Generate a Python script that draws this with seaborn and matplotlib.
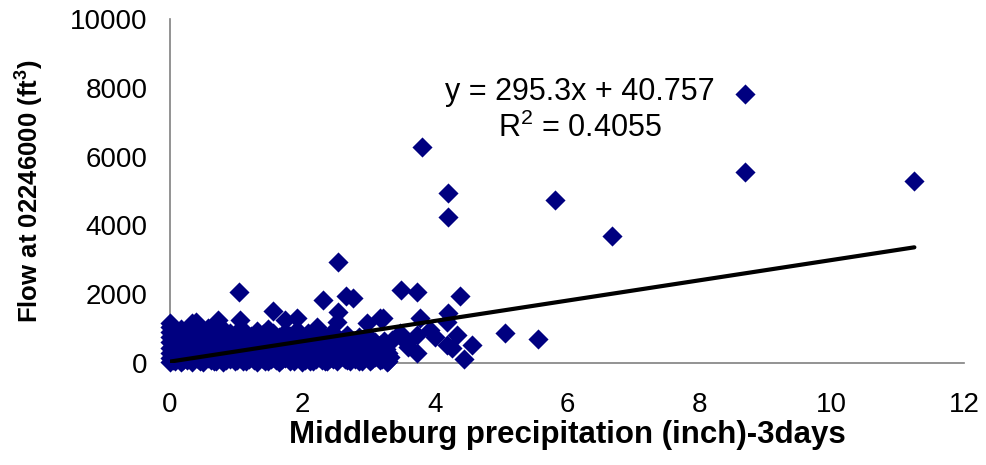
import matplotlib
matplotlib.use("Agg")
import matplotlib.pyplot as plt
import seaborn as sns
import pandas as pd

# ---------------- data ----------------
# dense cluster at low precipitation, listed column by column
cluster_x = (
    [0.0] * 9 + [0.08] * 5 + [0.16] * 6 + [0.25] * 5 + [0.33] * 6 + [0.39] +
    [0.42] * 5 + [0.50] * 5 + [0.58] * 5 + [0.66] * 5 + [0.73] * 4 + [0.80] * 5 +
    [0.90] * 5 + [0.98] * 4 + [1.06] * 6 + [1.15] * 4 + [1.23] * 4 + [1.32] * 5 +
    [1.40] * 4 + [1.48] * 5 + [1.56] * 4 + [1.65] * 4 + [1.74] * 5 + [1.82] * 4 +
    [1.92] * 5 + [2.00] * 4 + [2.08] * 4 + [2.16] * 4 + [2.22] + [2.25] * 4 +
    [2.34] * 4 + [2.42] * 4 + [2.52] * 5 + [2.60] * 3 + [2.68] * 4 + [2.76] * 3 +
    [2.85] * 4 + [2.94] * 3 + [2.98] + [3.02] * 4 + [3.10] * 3 + [3.17] * 4 +
    [3.24] * 3 + [3.30] * 2
)
cluster_y = [
    20, 150, 300, 450, 600, 750, 900, 1040, 1160,
    60, 250, 480, 700, 880,
    30, 200, 400, 620, 820, 980,
    90, 310, 530, 760, 940,
    40, 220, 450, 670, 880, 1160,
    1190,
    120, 350, 580, 800, 960,
    30, 260, 480, 700, 900,
    140, 380, 610, 830, 1010,
    60, 290, 520, 740, 920,
    1250, 180, 410, 650,
    40, 330, 560, 790, 990,
    110, 240, 470, 700, 880,
    50, 380, 600, 830,
    1250, 150, 300, 520, 760, 960,
    70, 420, 650, 870,
    200, 340, 560, 790,
    30, 270, 480, 700, 920,
    130, 400, 610, 850,
    60, 250, 520, 760, 990,
    160, 380, 640, 880,
    40, 290, 510, 750,
    1250, 140, 420, 650, 900,
    70, 330, 560, 780,
    1310, 190, 460, 700, 950,
    40, 280, 520, 760,
    150, 390, 620, 880,
    60, 300, 540, 780,
    1050,
    170, 420, 660, 900,
    50, 290, 530, 760,
    140, 380, 620, 850,
    1190, 60, 300, 540, 760,
    190, 430, 680,
    80, 320, 560, 800,
    180, 420, 650,
    60, 300, 540, 760,
    160, 410, 620,
    1160,
    50, 280, 500, 720,
    180, 400, 600,
    1310, 80, 300, 520,
    200, 430, 650,
    50, 300,
]
# second layer of the cluster (points between the columns above)
cluster2_x = [
    0.04, 0.04, 0.04, 0.12, 0.12, 0.12, 0.20, 0.20, 0.20, 0.29, 0.29, 0.29,
    0.37, 0.37, 0.37, 0.46, 0.46, 0.46, 0.54, 0.54, 0.54, 0.62, 0.62, 0.62,
    0.70, 0.70, 0.70, 0.77, 0.77, 0.77, 0.85, 0.85, 0.85, 0.94, 0.94, 0.94,
    1.02, 1.02, 1.02, 1.10, 1.10, 1.10, 1.19, 1.19, 1.19, 1.27, 1.27, 1.27,
    1.36, 1.36, 1.36, 1.44, 1.44, 1.44, 1.52, 1.52, 1.52, 1.60, 1.60, 1.60,
    1.70, 1.70, 1.70, 1.78, 1.78, 1.78, 1.87, 1.87, 1.87, 1.96, 1.96, 1.96,
    2.04, 2.04, 2.04, 2.12, 2.12, 2.12, 2.20, 2.20, 2.20, 2.30, 2.30, 2.30,
    2.38, 2.38, 2.38, 2.47, 2.47, 2.47, 2.56, 2.56, 2.56, 2.64, 2.64,
    2.72, 2.72, 2.80, 2.80, 2.90, 2.90, 3.06, 3.06, 3.14, 3.20, 3.27,
]
cluster2_y = [
    90, 380, 700, 140, 420, 760, 80, 350, 690, 160, 450, 820,
    110, 380, 720, 60, 400, 780, 150, 420, 760, 100, 360, 700,
    50, 330, 820, 120, 450, 690, 90, 380, 760, 160, 420, 740,
    100, 400, 690, 60, 350, 800, 130, 450, 720, 90, 400, 700,
    150, 380, 800, 50, 330, 690, 120, 420, 760, 80, 350, 720,
    110, 380, 780, 140, 450, 690, 60, 330, 800, 120, 390, 680,
    90, 420, 700, 50, 340, 780, 120, 380, 700, 90, 430, 660,
    60, 350, 700, 110, 420, 660, 150, 420, 640, 120, 380,
    60, 330, 110, 400, 50, 380, 130, 390, 240, 120, 420,
]
# scattered points outside the cluster
sparse_x = [8.69, 8.69, 11.25, 5.82, 6.68, 3.81, 4.20, 4.20, 5.06, 5.56,
            2.54, 3.49, 3.73, 4.38, 2.31, 2.66, 2.77, 1.04, 1.56, 2.54,
            4.20, 3.22, 3.78, 4.19, 3.48, 3.73, 3.93, 4.00, 4.34, 3.60,
            3.73, 4.19, 4.26, 4.56, 4.44, 3.32, 3.35, 3.58, 3.28]
sparse_y = [7820, 5550, 5290, 4740, 3690, 6290, 4950, 4250, 860, 700,
            2940, 2120, 2060, 1950, 1830, 1950, 1890, 2060, 1520, 1480,
            1450, 1310, 1310, 1190, 870, 810, 960, 760, 810, 470,
            290, 520, 440, 520, 110, 170, 670, 580, 30]

slope = 295.3
intercept = 40.757
r_squared = 0.4055

x_ticks = [0, 2, 4, 6, 8, 10, 12]
y_ticks = [0, 2000, 4000, 6000, 8000, 10000]

# ---------------- figure ----------------
sns.set_theme(style="white")
plt.rcParams["font.family"] = ["Liberation Sans", "DejaVu Sans"]
plt.rcParams["mathtext.fontset"] = "custom"
plt.rcParams["mathtext.rm"] = "Liberation Sans"
plt.rcParams["mathtext.bf"] = "Liberation Sans:bold"
plt.rcParams["text.color"] = "black"
plt.rcParams["axes.labelcolor"] = "black"

df = pd.DataFrame({"precip": cluster_x + cluster2_x + sparse_x,
                   "flow": cluster_y + cluster2_y + sparse_y})

fig = plt.figure(figsize=(9.86, 4.65), dpi=100)
ax = fig.add_axes([170 / 986, (465 - 363) / 465, (964 - 170) / 986, (363 - 19) / 465])

sns.scatterplot(data=df, x="precip", y="flow", marker="D", color="#000080",
                s=105, linewidth=0, ax=ax, zorder=2, clip_on=False)

xmax = df["precip"].max()
line_df = pd.DataFrame({"x": [0.0, xmax]})
line_df["y"] = slope * line_df["x"] + intercept
sns.lineplot(data=line_df, x="x", y="y", color="black", linewidth=3.0, ax=ax, zorder=3)

ax.set_xlim(0, 12)
ax.set_ylim(0, 10000)
ax.set_xticks(x_ticks)
ax.set_yticks(y_ticks)
ax.set_xticklabels([str(t) for t in x_ticks])
ax.set_yticklabels([str(t) for t in y_ticks])

for side in ["top", "right"]:
    ax.spines[side].set_visible(False)
for side in ["left", "bottom"]:
    ax.spines[side].set_color("#808080")
    ax.spines[side].set_linewidth(1.2)
    ax.spines[side].set_zorder(1)

ax.tick_params(axis="both", direction="out", length=7, width=1.2, color="#808080",
               labelsize=20, labelcolor="black")
ax.tick_params(axis="x", pad=14)
ax.tick_params(axis="y", pad=9)

ax.set_xlabel("Middleburg precipitation (inch)-3days", fontsize=22.5, fontweight="bold",
              labelpad=1)
ax.set_ylabel(r"Flow at 02246000 (ft$^\mathbf{3}$)", fontsize=18.5, fontweight="bold",
              labelpad=18)

ax.text(6.2, 7880, f"y = {slope}x + {intercept}", fontsize=22, ha="center", va="center")
ax.text(6.2, 6830, f"R$^2$ = {r_squared}", fontsize=22, ha="center", va="center")

fig.savefig("out.png", dpi=100)
